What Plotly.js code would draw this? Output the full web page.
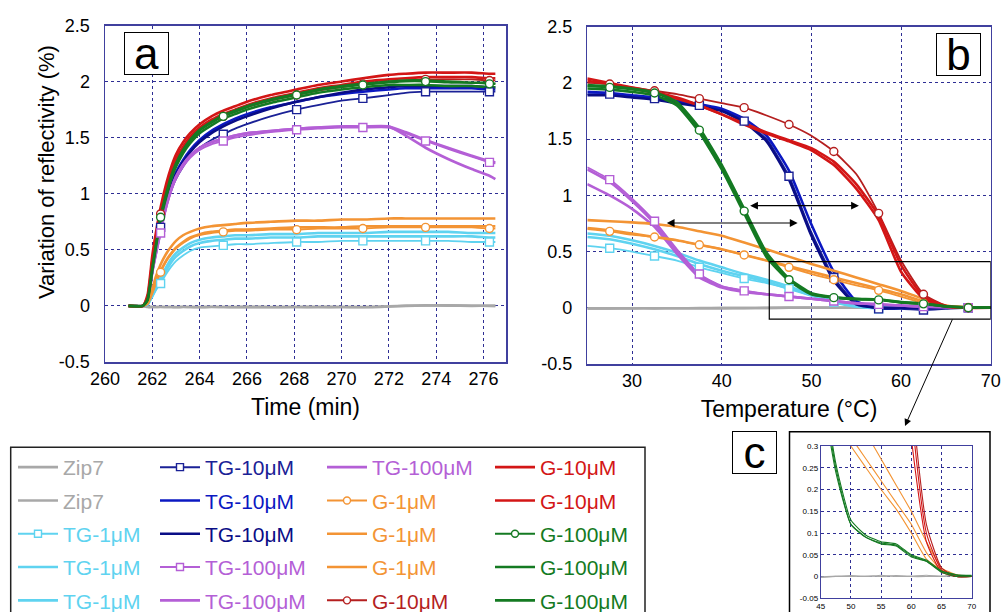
<!DOCTYPE html>
<html><head><meta charset="utf-8">
<script src="https://cdn.plot.ly/plotly-3.0.1.min.js"></script>
<style>html,body{margin:0;padding:0;background:#fff}#chart{width:1002px;height:612px}</style>
</head><body><div id="chart"></div>
<script>
// ---------------- DATA ----------------
const timeMin = [261.0, 261.6, 261.8, 262.0, 262.15, 262.35, 262.6, 262.8, 263.0, 263.3, 263.6, 264.0, 264.5, 265.0, 265.5, 266.0, 267.0, 268.1, 269.0, 270.0, 270.9, 272.0, 272.7, 273.55, 274.5, 275.5, 276.25, 276.5];
const tempC = [25, 27.5, 30, 32.5, 35, 37.5, 40, 42.5, 45, 47.5, 50, 52.5, 55, 57.5, 60, 62.5, 65, 67.5, 70];
const markerTimes = [262.35, 265.0, 268.1, 270.9, 273.55, 276.25];
const markerTemps = [27.5, 32.5, 37.5, 42.5, 47.5, 52.5, 57.5, 62.5, 67.5];

const seriesLabels = ['Zip7','Zip7','TG-1μM','TG-1μM','TG-1μM','TG-10μM','TG-10μM','TG-10μM','TG-100μM','TG-100μM',
  'TG-100μM','G-1μM','G-1μM','G-1μM','G-10μM','G-10μM','G-10μM','G-100μM','G-100μM','G-100μM'];

// panel a (time) values
const zip7A_time = [0, 0, -0.01, -0.01, -0.01, -0.01, -0.01, -0.01, -0.012, -0.01, -0.01, -0.012, -0.01, -0.01, -0.012, -0.01, -0.012, -0.01, -0.012, -0.01, -0.012, -0.005, 0.0, 0.004, 0.005, 0.0, 0.002, 0.0];
const zip7B_time = [0, 0, -0.008, -0.01, -0.01, -0.008, -0.01, -0.01, -0.01, -0.008, -0.01, -0.01, -0.008, -0.01, -0.01, -0.008, -0.01, -0.01, -0.008, -0.01, -0.01, -0.004, 0.002, 0.005, 0.003, 0.002, 0.0, 0.0];
const tg1M_time = [0, 0, 0.01, 0.08, 0.14, 0.2, 0.29, 0.35, 0.4, 0.45, 0.49, 0.52, 0.53, 0.54, 0.55, 0.55, 0.56, 0.57, 0.57, 0.58, 0.58, 0.58, 0.58, 0.58, 0.58, 0.57, 0.57, 0.57];
const tg1A_time = [0, 0, 0.02, 0.1, 0.17, 0.25, 0.35, 0.42, 0.47, 0.52, 0.56, 0.59, 0.61, 0.62, 0.63, 0.63, 0.64, 0.64, 0.65, 0.65, 0.65, 0.66, 0.66, 0.66, 0.66, 0.65, 0.65, 0.65];
const tg1B_time = [0, 0, 0.01, 0.09, 0.15, 0.22, 0.32, 0.39, 0.44, 0.49, 0.53, 0.56, 0.58, 0.59, 0.6, 0.6, 0.61, 0.61, 0.62, 0.62, 0.62, 0.62, 0.62, 0.62, 0.62, 0.62, 0.61, 0.61];
const tg10M_time = [0, 0, 0.04, 0.3, 0.48, 0.7, 0.9, 1.03, 1.13, 1.24, 1.33, 1.41, 1.48, 1.53, 1.58, 1.62, 1.69, 1.75, 1.79, 1.83, 1.85, 1.88, 1.9, 1.91, 1.91, 1.91, 1.91, 1.91];
const tg10A_time = [0, 0, 0.05, 0.32, 0.5, 0.73, 0.94, 1.08, 1.19, 1.3, 1.39, 1.48, 1.56, 1.62, 1.67, 1.71, 1.77, 1.82, 1.86, 1.89, 1.91, 1.93, 1.94, 1.94, 1.94, 1.94, 1.93, 1.93];
const tg10B_time = [0, 0, 0.05, 0.31, 0.5, 0.72, 0.93, 1.06, 1.17, 1.28, 1.37, 1.46, 1.54, 1.6, 1.65, 1.69, 1.76, 1.82, 1.86, 1.9, 1.93, 1.95, 1.96, 1.96, 1.96, 1.96, 1.95, 1.95];
const tg100M_time = [0, 0, 0.04, 0.3, 0.45, 0.65, 0.88, 1.02, 1.13, 1.24, 1.32, 1.39, 1.44, 1.47, 1.5, 1.52, 1.55, 1.57, 1.58, 1.59, 1.59, 1.59, 1.54, 1.47, 1.4, 1.33, 1.28, 1.27];
const tg100A_time = [0, 0, 0.04, 0.3, 0.46, 0.66, 0.9, 1.04, 1.15, 1.26, 1.34, 1.41, 1.46, 1.49, 1.52, 1.54, 1.56, 1.58, 1.59, 1.6, 1.6, 1.6, 1.52, 1.41, 1.31, 1.22, 1.16, 1.13];
const tg100B_time = [0, 0, 0.04, 0.31, 0.47, 0.67, 0.9, 1.04, 1.15, 1.26, 1.34, 1.41, 1.46, 1.49, 1.52, 1.54, 1.56, 1.58, 1.59, 1.6, 1.6, 1.6, 1.55, 1.48, 1.41, 1.34, 1.29, 1.28];
const g1M_time = [0, 0, 0.02, 0.12, 0.2, 0.3, 0.4, 0.46, 0.51, 0.56, 0.6, 0.63, 0.65, 0.66, 0.67, 0.67, 0.68, 0.68, 0.69, 0.69, 0.69, 0.7, 0.7, 0.7, 0.7, 0.7, 0.69, 0.69];
const g1A_time = [0, 0, 0.03, 0.15, 0.26, 0.37, 0.47, 0.53, 0.58, 0.63, 0.66, 0.69, 0.71, 0.72, 0.73, 0.74, 0.75, 0.76, 0.76, 0.77, 0.77, 0.78, 0.78, 0.78, 0.78, 0.78, 0.78, 0.78];
const g1B_time = [0, 0, 0.02, 0.12, 0.21, 0.31, 0.41, 0.47, 0.52, 0.57, 0.61, 0.64, 0.66, 0.67, 0.68, 0.68, 0.69, 0.7, 0.7, 0.7, 0.71, 0.71, 0.71, 0.71, 0.71, 0.71, 0.71, 0.71];
const g10M_time = [0, 0, 0.07, 0.38, 0.58, 0.82, 1.04, 1.18, 1.29, 1.4, 1.49, 1.57, 1.64, 1.69, 1.73, 1.77, 1.83, 1.88, 1.92, 1.95, 1.98, 2.0, 2.01, 2.02, 2.02, 2.02, 2.01, 2.01];
const g10A_time = [0, 0, 0.1, 0.45, 0.65, 0.88, 1.1, 1.24, 1.35, 1.46, 1.54, 1.62, 1.69, 1.74, 1.78, 1.82, 1.88, 1.93, 1.97, 2.0, 2.03, 2.06, 2.07, 2.08, 2.08, 2.08, 2.07, 2.07];
const g10B_time = [0, 0, 0.08, 0.4, 0.6, 0.84, 1.06, 1.2, 1.31, 1.42, 1.51, 1.59, 1.66, 1.71, 1.75, 1.79, 1.85, 1.9, 1.94, 1.97, 2.0, 2.02, 2.03, 2.04, 2.04, 2.04, 2.03, 2.03];
const g100M_time = [0, 0, 0.05, 0.33, 0.53, 0.79, 1.0, 1.15, 1.26, 1.38, 1.47, 1.56, 1.63, 1.69, 1.73, 1.77, 1.83, 1.88, 1.92, 1.95, 1.97, 1.99, 2.0, 2.0, 1.99, 1.99, 1.98, 1.98];
const g100A_time = [0, 0, 0.05, 0.32, 0.52, 0.77, 0.98, 1.13, 1.24, 1.36, 1.45, 1.54, 1.61, 1.67, 1.71, 1.75, 1.81, 1.86, 1.9, 1.93, 1.95, 1.97, 1.97, 1.97, 1.96, 1.96, 1.95, 1.95];
const g100B_time = [0, 0, 0.06, 0.34, 0.54, 0.8, 1.01, 1.16, 1.27, 1.39, 1.48, 1.57, 1.64, 1.7, 1.74, 1.78, 1.84, 1.89, 1.93, 1.96, 1.98, 2.0, 2.01, 2.01, 2.0, 1.99, 1.99, 1.98];

// panel b / c (temperature) values
const zip7A_temp = [-0.005, -0.005, -0.004, -0.005, -0.004, -0.004, -0.003, -0.003, -0.002, 0.0, 0.002, 0.0, 0.003, 0.0, 0.001, 0.003, 0.0, 0.002, 0.002];
const zip7B_temp = [-0.006, -0.005, -0.005, -0.004, -0.004, -0.003, -0.003, -0.002, -0.001, 0.001, 0.0, 0.001, 0.0, 0.002, 0.0, 0.0, 0.001, 0.003, 0.002];
const tg1M_temp = [0.55, 0.53, 0.5, 0.46, 0.42, 0.36, 0.31, 0.26, 0.22, 0.17, 0.11, 0.05, 0.01, -0.01, -0.01, 0.0, 0.0, 0.0, 0.0];
const tg1A_temp = [0.66, 0.64, 0.6, 0.55, 0.49, 0.42, 0.36, 0.3, 0.25, 0.19, 0.12, 0.06, 0.02, 0.0, 0.0, 0.0, 0.0, 0.0, 0.0];
const tg1B_temp = [0.63, 0.61, 0.57, 0.52, 0.46, 0.39, 0.33, 0.28, 0.23, 0.17, 0.11, 0.05, 0.01, 0.0, 0.0, 0.0, 0.0, 0.0, 0.0];
const tg10M_temp = [1.9, 1.9, 1.88, 1.86, 1.83, 1.8, 1.76, 1.66, 1.5, 1.17, 0.67, 0.27, 0.04, -0.01, -0.01, -0.02, -0.01, 0.0, 0.0];
const tg10A_temp = [1.92, 1.91, 1.89, 1.87, 1.84, 1.81, 1.77, 1.68, 1.53, 1.22, 0.74, 0.32, 0.06, 0.0, 0.0, 0.0, 0.0, 0.0, 0.0];
const tg10B_temp = [1.89, 1.89, 1.87, 1.85, 1.82, 1.79, 1.75, 1.65, 1.48, 1.14, 0.64, 0.24, 0.03, 0.0, 0.0, 0.0, 0.0, 0.0, 0.0];
const tg100M_temp = [1.25, 1.14, 0.97, 0.77, 0.52, 0.3, 0.19, 0.15, 0.12, 0.1, 0.08, 0.06, 0.04, 0.03, 0.02, 0.01, 0.005, 0.0, 0.0];
const tg100A_temp = [1.1, 1.0, 0.88, 0.72, 0.48, 0.27, 0.18, 0.14, 0.12, 0.1, 0.08, 0.06, 0.04, 0.03, 0.02, 0.01, 0.005, 0.0, 0.0];
const tg100B_temp = [1.23, 1.12, 0.95, 0.75, 0.5, 0.29, 0.19, 0.15, 0.12, 0.1, 0.08, 0.06, 0.04, 0.03, 0.02, 0.01, 0.005, 0.0, 0.0];
const g1M_temp = [0.7, 0.68, 0.65, 0.63, 0.6, 0.56, 0.52, 0.47, 0.42, 0.36, 0.3, 0.25, 0.2, 0.155, 0.1, 0.04, 0.015, 0.003, 0.0];
const g1A_temp = [0.78, 0.77, 0.76, 0.745, 0.72, 0.68, 0.64, 0.58, 0.52, 0.455, 0.39, 0.33, 0.27, 0.21, 0.15, 0.08, 0.02, 0.004, 0.0];
const g1B_temp = [0.71, 0.69, 0.66, 0.63, 0.6, 0.56, 0.52, 0.47, 0.42, 0.37, 0.32, 0.27, 0.22, 0.17, 0.12, 0.055, 0.015, 0.003, 0.0];
const g10M_temp = [2.0, 1.99, 1.96, 1.93, 1.9, 1.86, 1.82, 1.78, 1.71, 1.63, 1.53, 1.39, 1.19, 0.84, 0.42, 0.12, 0.02, 0.0, 0.0];
const g10A_temp = [2.04, 2.0, 1.96, 1.92, 1.87, 1.8, 1.72, 1.63, 1.55, 1.48, 1.4, 1.27, 1.06, 0.78, 0.32, 0.08, 0.01, 0.0, 0.0];
const g10B_temp = [2.02, 1.99, 1.95, 1.91, 1.86, 1.8, 1.72, 1.64, 1.56, 1.49, 1.42, 1.3, 1.1, 0.82, 0.38, 0.1, 0.015, 0.0, 0.0];
const g100M_temp = [1.97, 1.96, 1.94, 1.91, 1.82, 1.58, 1.25, 0.86, 0.47, 0.25, 0.12, 0.09, 0.075, 0.07, 0.045, 0.035, 0.01, 0.0, 0.0];
const g100A_temp = [1.95, 1.94, 1.92, 1.89, 1.8, 1.56, 1.23, 0.84, 0.45, 0.24, 0.12, 0.09, 0.077, 0.072, 0.048, 0.035, 0.012, 0.003, 0.002];
const g100B_temp = [1.98, 1.97, 1.95, 1.92, 1.83, 1.6, 1.27, 0.88, 0.49, 0.26, 0.13, 0.095, 0.08, 0.075, 0.05, 0.038, 0.013, 0.004, 0.003];

const yTickVals = [-0.5, 0, 0.5, 1, 1.5, 2, 2.5];
const yTickText = ['-0.5', '0', '0.5', '1', '1.5', '2', '2.5'];
const cTickVals = [-0.05, 0, 0.05, 0.1, 0.15, 0.2, 0.25, 0.3];
const cTickText = ['-0.05', '0', '0.05', '0.1', '0.15', '0.2', '0.25', '0.3'];

// ---------------- STYLE ----------------
const timeSeries = [zip7A_time, zip7B_time, tg1M_time, tg1A_time, tg1B_time, tg10M_time, tg10A_time, tg10B_time, tg100M_time, tg100A_time,
  tg100B_time, g1M_time, g1A_time, g1B_time, g10M_time, g10A_time, g10B_time, g100M_time, g100A_time, g100B_time];
const tempSeries = [zip7A_temp, zip7B_temp, tg1M_temp, tg1A_temp, tg1B_temp, tg10M_temp, tg10A_temp, tg10B_temp, tg100M_temp, tg100A_temp,
  tg100B_temp, g1M_temp, g1A_temp, g1B_temp, g10M_temp, g10A_temp, g10B_temp, g100M_temp, g100A_temp, g100B_temp];
const colors = ['#a8a8a8','#a8a8a8','#5fd3f0','#5fd3f0','#5fd3f0','#1a2196','#0b18c2','#0a0d86','#b45fd6','#b45fd6',
  '#b45fd6','#f39434','#f39434','#f39434','#b51f1f','#d31616','#d31616','#147a22','#147a22','#147a22'];
const symbols = [null,null,'square',null,null,'square',null,null,'square',null,
  null,'circle',null,null,'circle',null,null,'circle',null,null];
const inInset = [true,true,false,false,false,false,false,false,false,false,
  false,true,true,true,true,true,true,true,true,true];

const FONT = 'Liberation Sans, Arial, sans-serif';
const legendIds = ['legend','legend2','legend3','legend4'];

const lineTraces = [], markerTraces = [], legendTraces = [];
seriesLabels.forEach((label, i) => {
  const c = colors[i];
  const sym = symbols[i];
  const grp = 'g' + i;
  const lg = legendIds[Math.floor(i / 5)];
  const name = '<span style="color:' + c + '">' + label + '</span>';
  const lw = sym ? 1.8 : 2.6;
  const common = {legendgroup: grp, legend: lg, legendrank: i, name: name, hoverinfo: 'skip'};
  const mk = {symbol: sym, size: 8, color: '#fff', line: {color: c, width: 1.4}};
  if (sym) {
    legendTraces.push(Object.assign({x: [null], y: [null], mode: 'lines+markers', showlegend: true,
      line: {color: c, width: 2}, marker: Object.assign({}, mk, {size: 7}), xaxis: 'x', yaxis: 'y'}, common));
  }
  // panel a
  lineTraces.push(Object.assign({x: timeMin, y: timeSeries[i], mode: 'lines', showlegend: !sym,
    line: {color: c, width: lw, shape: 'spline', smoothing: 0.5}, xaxis: 'x', yaxis: 'y'}, common));
  // panel b
  lineTraces.push(Object.assign({x: tempC, y: tempSeries[i], mode: 'lines', showlegend: false,
    line: {color: c, width: lw, shape: 'spline', smoothing: 0.5}, xaxis: 'x2', yaxis: 'y2'}, common));
  // panel c (inset)
  if (inInset[i]) {
    lineTraces.push(Object.assign({x: tempC, y: tempSeries[i], mode: 'lines', showlegend: false,
      line: {color: c, width: 1.1, shape: 'spline', smoothing: 0.5}, xaxis: 'x3', yaxis: 'y3'}, common));
  }
  if (sym) {
    const ta = timeMin.map((t, k) => markerTimes.includes(t) ? k : -1).filter(k => k >= 0);
    const tb = tempC.map((t, k) => markerTemps.includes(t) ? k : -1).filter(k => k >= 0);
    markerTraces.push(Object.assign({x: ta.map(k => timeMin[k]), y: ta.map(k => timeSeries[i][k]), mode: 'markers',
      showlegend: false, marker: mk, xaxis: 'x', yaxis: 'y'}, common));
    markerTraces.push(Object.assign({x: tb.map(k => tempC[k]), y: tb.map(k => tempSeries[i][k]), mode: 'markers',
      showlegend: false, marker: mk, xaxis: 'x2', yaxis: 'y2'}, common));
  }
});

const data = [...legendTraces, ...lineTraces, ...markerTraces];

const W = 1002, H = 612;
const px = v => v / W, py = v => 1 - v / H;
const gridC = '#2e2e94', axC = '#40409e';
const axisBase = {showline: true, mirror: true, linecolor: axC, linewidth: 1.5, showgrid: true, gridcolor: gridC, griddash: 'dot',
  gridwidth: 1, zeroline: false, ticks: '', tickfont: {family: FONT, size: 18, color: '#000'}};

const legendBase = {orientation: 'v', bgcolor: 'rgba(0,0,0,0)', borderwidth: 0, font: {family: FONT, size: 21},
  tracegroupgap: 3, itemwidth: 40, xanchor: 'left', yanchor: 'top', y: py(447), traceorder: 'grouped'};

const boxLabel = (x, y, t) => ({xref: 'paper', yref: 'paper', x: px(x), y: py(y), xanchor: 'center', yanchor: 'middle', text: t,
  showarrow: false, font: {family: FONT, size: 44, color: '#000'}, bgcolor: '#fff', bordercolor: '#000', borderwidth: 1,
  borderpad: 0, width: 43, height: 41});

const layout = {
  width: W, height: H, autosize: false, margin: {l: 0, r: 0, t: 0, b: 0, pad: 0, autoexpand: false},
  paper_bgcolor: '#fff', plot_bgcolor: '#fff', font: {family: FONT, color: '#000'},
  xaxis: Object.assign({}, axisBase, {domain: [px(105), px(506)], range: [260, 276.95], dtick: 2, tick0: 260,
    title: {text: 'Time (min)', font: {family: FONT, size: 23}, standoff: 11}, anchor: 'y'}),
  yaxis: Object.assign({}, axisBase, {domain: [1 - 362 / H, 1 - 25.5 / H], range: [-0.5, 2.5], tickmode: 'array',
    tickvals: yTickVals, ticktext: yTickText, ticklabelstandoff: 10, anchor: 'x'}),
  xaxis2: Object.assign({}, axisBase, {domain: [px(587.3), px(990.7)], range: [25, 70], dtick: 10, tick0: 30,
    title: {text: 'Temperature (°C)', font: {family: FONT, size: 23}, standoff: 11}, anchor: 'y2'}),
  yaxis2: Object.assign({}, axisBase, {domain: [1 - 364 / H, 1 - 26.7 / H], range: [-0.5, 2.5], tickmode: 'array',
    tickvals: yTickVals, ticktext: yTickText, ticklabelstandoff: 10, anchor: 'x2'}),
  xaxis3: Object.assign({}, axisBase, {domain: [px(820.7), px(971.7)], range: [45, 70], dtick: 5, tick0: 45, linewidth: 1,
    tickfont: {family: FONT, size: 8, color: '#000'}, anchor: 'y3'}),
  yaxis3: Object.assign({}, axisBase, {domain: [1 - 598.3 / H, 1 - 446 / H], range: [-0.05, 0.3], tickmode: 'array',
    tickvals: cTickVals, ticktext: cTickText, linewidth: 1, tickfont: {family: FONT, size: 8, color: '#000'}, anchor: 'x3'}),
  legend: Object.assign({}, legendBase, {x: px(13)}),
  legend2: Object.assign({}, legendBase, {x: px(155)}),
  legend3: Object.assign({}, legendBase, {x: px(322)}),
  legend4: Object.assign({}, legendBase, {x: px(490)}),
  shapes: [
    {type: 'rect', xref: 'x2', yref: 'y2', x0: 45.3, x1: 70, y0: -0.1, y1: 0.41, line: {color: '#000', width: 1.2}},
    {type: 'rect', xref: 'paper', yref: 'paper', x0: px(789.5), x1: px(990), y0: -0.02, y1: py(431.7), line: {color: '#000', width: 1.5}},
    {type: 'rect', xref: 'paper', yref: 'paper', x0: px(10.7), x1: px(645), y0: -0.02, y1: py(447.3), line: {color: '#222', width: 1.5}}
  ],
  annotations: [
    {xref: 'paper', yref: 'paper', x: px(46), y: py(172), xanchor: 'center', yanchor: 'middle', textangle: -90,
      text: 'Variation of reflectivity (%)', showarrow: false, font: {family: FONT, size: 22, color: '#000'}},
    boxLabel(146.7, 53, 'a'),
    boxLabel(958.3, 54, 'b'),
    boxLabel(754.8, 452.5, 'c'),
    {xref: 'x2', yref: 'y2', axref: 'x2', ayref: 'y2', x: 55.3, y: 0.908, ax: 43.0, ay: 0.908, text: '', showarrow: true,
      arrowhead: 2, startarrowhead: 2, arrowside: 'end+start', arrowsize: 1.3, startarrowsize: 1.3, arrowwidth: 1.2, arrowcolor: '#000'},
    {xref: 'x2', yref: 'y2', axref: 'x2', ayref: 'y2', x: 48.46, y: 0.754, ax: 33.7, ay: 0.754, text: '', showarrow: true,
      arrowhead: 2, startarrowhead: 2, arrowside: 'end+start', arrowsize: 1.3, startarrowsize: 1.3, arrowwidth: 1.2, arrowcolor: '#000'},
    {xref: 'paper', yref: 'paper', x: px(905), y: py(426), ax: 48, ay: -108, text: '', showarrow: true,
      arrowhead: 2, arrowsize: 1.4, arrowwidth: 1, arrowcolor: '#000'}
  ]
};

Plotly.newPlot('chart', data, layout, {displayModeBar: false, staticPlot: true});
</script>
</body></html>
